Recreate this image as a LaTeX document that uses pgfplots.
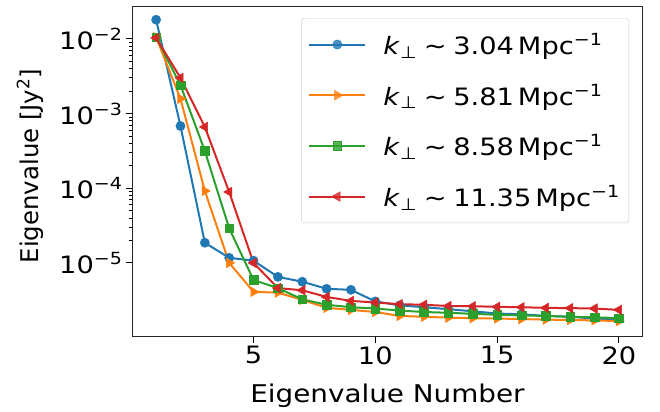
\documentclass[border=0pt]{standalone}
\usepackage{pgfplots}
\pgfplotsset{compat=1.18}
\usepackage{fontspec}
\setmainfont{DejaVu Sans}[FakeStretch=1.14]
\newfontfamily\ylfont{DejaVu Sans}
\usetikzlibrary{calc}
\definecolor{c1}{HTML}{1F77B4}
\definecolor{c2}{HTML}{FF7F0E}
\definecolor{c3}{HTML}{2CA02C}
\definecolor{c4}{HTML}{D62728}
\newcommand{\kp}[1]{\textit{k}\textsubscript{⊥}\hspace{0.28em}∼\hspace{0.28em}#1\,Mpc\textsuperscript{−1}}
\begin{document}
\begin{tikzpicture}
\begin{axis}[
  scale only axis, width=509bp, height=330bp,
  ymode=log,
  xmin=0.05, xmax=20.95, ymin=1.05e-6, ymax=2.75e-2,
  xtick={5,10,15,20},
  ytick={1e-5,1e-4,1e-3,1e-2},
  yticklabels={10\textsuperscript{−5},10\textsuperscript{−4},10\textsuperscript{−3},10\textsuperscript{−2}},
  xticklabels={5,10,15,20},
  tick pos=left, tick align=outside,
  major tick length=7bp, minor tick length=4bp,
  every tick/.style={black, line width=0.8bp},
  axis line style={black!85, line width=1bp},
  font=\fontsize{24}{29}\selectfont,
  tick label style={font=\fontsize{24}{29}\selectfont},
  xlabel={Eigenvalue Number},
  ylabel={\ylfont Eigenvalue [Jy\textsuperscript{2}]},
  xlabel style={at={(axis description cs:0.5,-0.203)}, anchor=base, font=\fontsize{24.5}{29}\selectfont},
  ylabel style={at={(axis description cs:-0.2024,0.515)}, anchor=center, font=\fontsize{24.5}{29}\selectfont},
  every axis plot/.append style={line width=2bp},
  legend cell align=left,
  legend style={at={(1,1)}, anchor=north east, xshift=-13bp, yshift=-12bp,
    draw=black!20, rounded corners=3bp, fill=white, fill opacity=0.8, text opacity=1,
    font=\fontsize{24}{29}\selectfont, row sep=24bp, inner xsep=7bp, inner ysep=13bp,
    /tikz/every odd column/.append style={column sep=15bp}},
  legend image code/.code={\draw[mark repeat=2,mark phase=2] plot coordinates {(0bp,0bp)(28bp,0bp)(56bp,0bp)};},
]
\addplot[c1, mark=*, mark size=4.6bp, mark options={solid, fill=c1, draw=c1, line width=0.5bp}] coordinates {
(1,1.8e-2)(2,6.8e-4)(3,1.86e-5)(4,1.17e-5)(5,1.07e-5)(6,6.5e-6)(7,5.6e-6)(8,4.5e-6)(9,4.36e-6)(10,3.05e-6)
(11,2.7e-6)(12,2.55e-6)(13,2.4e-6)(14,2.25e-6)(15,2.1e-6)(16,2.05e-6)(17,1.95e-6)(18,1.9e-6)(19,1.8e-6)(20,1.75e-6)};
\addlegendentry{\kp{3.04}}
\addplot[c2, mark=triangle*, mark size=5.5bp, mark options={solid, fill=c2, draw=c2, line width=0.5bp, rotate=-90}] coordinates {
(1,1.05e-2)(2,1.58e-3)(3,9.2e-5)(4,1.0e-5)(5,4.1e-6)(6,4.0e-6)(7,3.2e-6)(8,2.5e-6)(9,2.35e-6)(10,2.2e-6)
(11,1.95e-6)(12,1.9e-6)(13,1.85e-6)(14,1.82e-6)(15,1.8e-6)(16,1.77e-6)(17,1.74e-6)(18,1.72e-6)(19,1.7e-6)(20,1.66e-6)};
\addlegendentry{\kp{5.81}}
\addplot[c3, mark=square*, mark size=4.3bp, mark options={solid, fill=c3, draw=c3, line width=0.5bp}] coordinates {
(1,1.05e-2)(2,2.4e-3)(3,3.15e-4)(4,2.9e-5)(5,5.9e-6)(6,4.6e-6)(7,3.25e-6)(8,2.75e-6)(9,2.55e-6)(10,2.45e-6)
(11,2.3e-6)(12,2.2e-6)(13,2.15e-6)(14,2.08e-6)(15,2.02e-6)(16,1.98e-6)(17,1.95e-6)(18,1.9e-6)(19,1.87e-6)(20,1.82e-6)};
\addlegendentry{\kp{8.58}}
\addplot[c4, mark=triangle*, mark size=5.5bp, mark options={solid, fill=c4, draw=c4, line width=0.5bp, rotate=90}] coordinates {
(1,1.03e-2)(2,3.0e-3)(3,6.6e-4)(4,8.9e-5)(5,1.0e-5)(6,4.6e-6)(7,4.3e-6)(8,3.5e-6)(9,3.1e-6)(10,2.95e-6)
(11,2.8e-6)(12,2.75e-6)(13,2.65e-6)(14,2.63e-6)(15,2.58e-6)(16,2.55e-6)(17,2.5e-6)(18,2.48e-6)(19,2.45e-6)(20,2.35e-6)};
\addlegendentry{\kp{11.35}}
\end{axis}
\path ($(current axis.south west)+(-133bp,-74bp)$) rectangle ($(current axis.north east)+(18bp,6bp)$);
\end{tikzpicture}
\end{document}
